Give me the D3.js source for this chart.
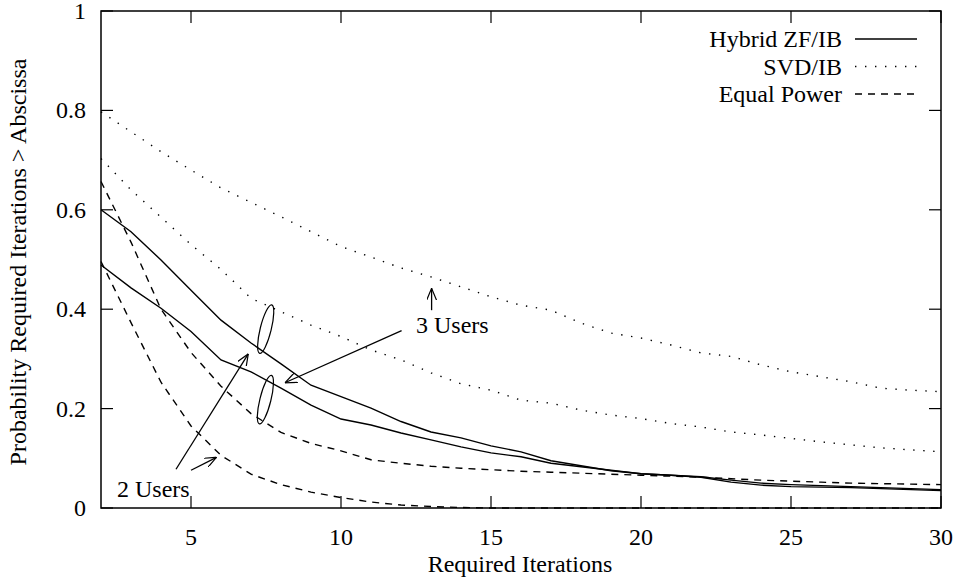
<!DOCTYPE html>
<html>
<head>
<meta charset="utf-8">
<script src="https://cdn.jsdelivr.net/npm/d3@7"></script>
<style>
  body { margin: 0; background: #fff; }
  text { font-family: "Liberation Serif", "DejaVu Serif", serif; fill: #000; }
</style>
</head>
<body>
<script>
'use strict';

// required iterations (x) and tail probabilities
const iterations = d3.range(2, 31);
const hybrid2 = [0.6, 0.556, 0.499, 0.438, 0.378, 0.332, 0.29, 0.247, 0.224, 0.201, 0.174, 0.153, 0.141, 0.125, 0.113, 0.095, 0.085, 0.075, 0.069, 0.066, 0.063, 0.056, 0.05, 0.047, 0.045, 0.043, 0.041, 0.039, 0.037];
const hybrid3 = [0.489, 0.443, 0.402, 0.355, 0.298, 0.274, 0.241, 0.207, 0.179, 0.167, 0.151, 0.137, 0.123, 0.111, 0.103, 0.09, 0.083, 0.076, 0.069, 0.066, 0.062, 0.052, 0.046, 0.043, 0.042, 0.041, 0.039, 0.037, 0.035];
const svd3 = [0.797, 0.757, 0.717, 0.68, 0.644, 0.615, 0.586, 0.556, 0.526, 0.505, 0.483, 0.465, 0.445, 0.425, 0.408, 0.398, 0.372, 0.352, 0.342, 0.328, 0.312, 0.305, 0.288, 0.274, 0.264, 0.254, 0.241, 0.237, 0.234];
const svd2 = [0.703, 0.64, 0.585, 0.53, 0.48, 0.422, 0.395, 0.368, 0.345, 0.318, 0.298, 0.272, 0.25, 0.237, 0.217, 0.211, 0.197, 0.187, 0.18, 0.17, 0.163, 0.153, 0.147, 0.14, 0.133, 0.127, 0.121, 0.117, 0.113];
const equal3 = [0.657, 0.535, 0.4, 0.313, 0.245, 0.19, 0.152, 0.13, 0.115, 0.097, 0.09, 0.084, 0.08, 0.077, 0.074, 0.072, 0.07, 0.068, 0.066, 0.064, 0.062, 0.059, 0.056, 0.054, 0.052, 0.05, 0.049, 0.048, 0.047];
const equal2 = [0.496, 0.373, 0.253, 0.165, 0.106, 0.068, 0.047, 0.032, 0.021, 0.012, 0.006, 0.003, 0.001, 0, 0, 0, 0, 0, 0, 0, 0, 0, 0, 0, 0, 0, 0, 0, 0];

const xTicks = [5, 10, 15, 20, 25, 30];
const yTicks = [0, 0.2, 0.4, 0.6, 0.8, 1];
const legendNames = ['Hybrid ZF/IB', 'SVD/IB', 'Equal Power'];

const dashStyles = {
  solid: null,
  dotted: '1.4,8.6',
  dashed: '7,6'
};

const series = [
  { values: hybrid2, style: 'solid' },
  { values: hybrid3, style: 'solid' },
  { values: svd3, style: 'dotted' },
  { values: svd2, style: 'dotted' },
  { values: equal3, style: 'dashed' },
  { values: equal2, style: 'dashed' }
];

const width = 959, height = 579;
const plotLeft = 101, plotRight = 941, plotTop = 11, plotBottom = 508;
const fontSize = '24px';

const svg = d3.select('body').append('svg')
  .attr('width', width)
  .attr('height', height);

const xScale = d3.scaleLinear().domain([2, 30]).range([plotLeft, plotRight]);
const yScale = d3.scaleLinear().domain([0, 1]).range([plotBottom, plotTop]);

// ticks (gnuplot style: inside, mirrored)
const tickLen = 12;
const axisG = svg.append('g');
xTicks.forEach(t => {
  axisG.append('line')
    .attr('x1', xScale(t)).attr('x2', xScale(t))
    .attr('y1', plotBottom).attr('y2', plotBottom - tickLen)
    .attr('stroke', '#000').attr('stroke-width', 1.2);
  axisG.append('line')
    .attr('x1', xScale(t)).attr('x2', xScale(t))
    .attr('y1', plotTop).attr('y2', plotTop + tickLen)
    .attr('stroke', '#000').attr('stroke-width', 1.2);
  axisG.append('text')
    .attr('x', xScale(t)).attr('y', plotBottom + 37)
    .attr('text-anchor', 'middle')
    .style('font-size', fontSize)
    .text(t);
});
yTicks.forEach(t => {
  axisG.append('line')
    .attr('x1', plotLeft).attr('x2', plotLeft + tickLen)
    .attr('y1', yScale(t)).attr('y2', yScale(t))
    .attr('stroke', '#000').attr('stroke-width', 1.2);
  axisG.append('line')
    .attr('x1', plotRight).attr('x2', plotRight - tickLen)
    .attr('y1', yScale(t)).attr('y2', yScale(t))
    .attr('stroke', '#000').attr('stroke-width', 1.2);
  axisG.append('text')
    .attr('x', plotLeft - 15).attr('y', yScale(t) + 8)
    .attr('text-anchor', 'end')
    .style('font-size', fontSize)
    .text(t);
});

// curves
const line = d3.line()
  .x((d, i) => xScale(iterations[i]))
  .y(d => yScale(d));

series.forEach(s => {
  svg.append('path')
    .datum(s.values)
    .attr('fill', 'none')
    .attr('stroke', '#000')
    .attr('stroke-width', 1.4)
    .attr('stroke-dasharray', dashStyles[s.style])
    .attr('d', line);
});

// border
svg.append('rect')
  .attr('x', plotLeft).attr('y', plotTop)
  .attr('width', plotRight - plotLeft).attr('height', plotBottom - plotTop)
  .attr('fill', 'none').attr('stroke', '#000').attr('stroke-width', 1.5);

// axis titles
svg.append('text')
  .attr('x', 520).attr('y', 572)
  .attr('text-anchor', 'middle')
  .style('font-size', fontSize)
  .text('Required Iterations');

svg.append('text')
  .attr('transform', 'translate(26, 262)rotate(-90)')
  .attr('text-anchor', 'middle')
  .style('font-size', fontSize)
  .text('Probability Required Iterations > Abscissa');

// legend
const styleOrder = ['solid', 'dotted', 'dashed'];
legendNames.forEach((name, i) => {
  const y = 39 + i * 27.5;
  svg.append('text')
    .attr('x', 842).attr('y', y + 8)
    .attr('text-anchor', 'end')
    .style('font-size', fontSize)
    .text(name);
  svg.append('line')
    .attr('x1', 855).attr('x2', 917)
    .attr('y1', y).attr('y2', y)
    .attr('stroke', '#000').attr('stroke-width', 1.4)
    .attr('stroke-dasharray', dashStyles[styleOrder[i]]);
});

// annotations
const defs = svg.append('defs');
defs.append('marker')
  .attr('id', 'head')
  .attr('viewBox', '0 0 12 10')
  .attr('refX', 12).attr('refY', 5)
  .attr('markerWidth', 12).attr('markerHeight', 10)
  .attr('markerUnits', 'userSpaceOnUse')
  .attr('orient', 'auto')
  .append('path')
    .attr('d', 'M0,0 L12,5 L0,10')
    .attr('fill', 'none').attr('stroke', '#000').attr('stroke-width', 1.2);

function ellipse(cx, cy) {
  const px = xScale(cx), py = yScale(cy);
  svg.append('ellipse')
    .attr('cx', 0).attr('cy', 0)
    .attr('rx', 5.5).attr('ry', 25)
    .attr('transform', `translate(${px},${py})rotate(14)`)
    .attr('fill', 'none').attr('stroke', '#000').attr('stroke-width', 1.2);
}
ellipse(7.49, 0.36);
ellipse(7.48, 0.218);

function arrow(x1, y1, x2, y2) {
  svg.append('line')
    .attr('x1', xScale(x1)).attr('y1', yScale(y1))
    .attr('x2', xScale(x2)).attr('y2', yScale(y2))
    .attr('stroke', '#000').attr('stroke-width', 1.3)
    .attr('marker-end', 'url(#head)');
}
arrow(4.5, 0.078, 6.91, 0.31);
arrow(5.0, 0.076, 5.85, 0.102);
arrow(12.02, 0.357, 8.13, 0.252);
arrow(13.02, 0.398, 13.02, 0.442);

svg.append('text')
  .attr('x', 117).attr('y', 497)
  .style('font-size', fontSize)
  .text('2 Users');
svg.append('text')
  .attr('x', 416).attr('y', 333)
  .style('font-size', fontSize)
  .text('3 Users');
</script>
</body>
</html>
